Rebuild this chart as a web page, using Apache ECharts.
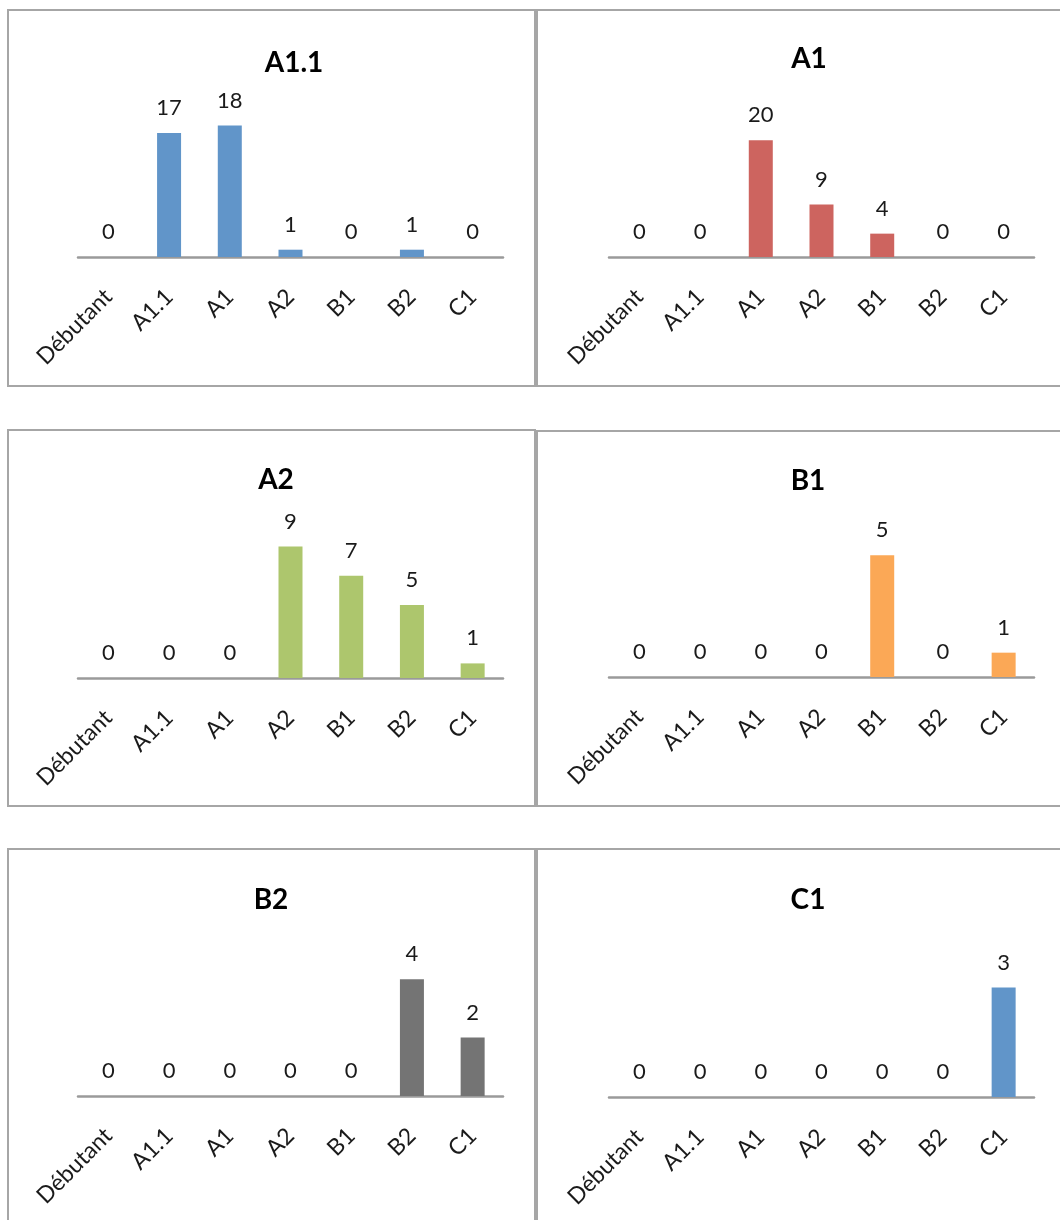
<!DOCTYPE html>
<html>
<head>
<meta charset="utf-8">
<script src="https://cdn.jsdelivr.net/npm/echarts@6/dist/echarts.min.js"></script>
<style>
  html, body { margin: 0; padding: 0; background: #ffffff; }
  body { width: 1060px; height: 1220px; position: relative; overflow: hidden; }
  .panel { position: absolute; box-sizing: border-box; border: 2px solid #a6a6a6; background: #fff; }
</style>
</head>
<body>
<div id="p0" class="panel" style="left:7px;top:9px;width:529px;height:378px;"></div>
<div id="p1" class="panel" style="left:536px;top:9px;width:530px;height:378px;"></div>
<div id="p2" class="panel" style="left:7px;top:429px;width:529px;height:378px;"></div>
<div id="p3" class="panel" style="left:536px;top:430px;width:530px;height:377px;"></div>
<div id="p4" class="panel" style="left:7px;top:848px;width:529px;height:390px;"></div>
<div id="p5" class="panel" style="left:536px;top:848px;width:530px;height:390px;"></div>
<script>
// ---- data ----
const categories = ['Débutant', 'A1.1', 'A1', 'A2', 'B1', 'B2', 'C1'];
const panelTitles = ['A1.1', 'A1', 'A2', 'B1', 'B2', 'C1'];
const valuesA11 = [0, 17, 18, 1, 0, 1, 0];
const valuesA1  = [0, 0, 20, 9, 4, 0, 0];
const valuesA2  = [0, 0, 0, 9, 7, 5, 1];
const valuesB1  = [0, 0, 0, 0, 5, 0, 1];
const valuesB2  = [0, 0, 0, 0, 0, 4, 2];
const valuesC1  = [0, 0, 0, 0, 0, 0, 3];
const yAxisMax  = [20, 25, 10, 6, 5, 4];

// ---- styling / layout ----
const seriesValues = [valuesA11, valuesA1, valuesA2, valuesB1, valuesB2, valuesC1];
const barColors = ['#6195c9', '#cd645f', '#adc66d', '#fba856', '#747474', '#6195c9'];
// per-panel layout (relative to panel div, inside its 2px border)
const layouts = [
  { gridLeft: 69, gridTop: 100, titleX: 280, titleY: 33 },
  { gridLeft: 71, gridTop: 100, titleX: 266, titleY: 29 },
  { gridLeft: 69, gridTop: 101, titleX: 262, titleY: 30 },
  { gridLeft: 71, gridTop: 99,  titleX: 265, titleY: 30 },
  { gridLeft: 69, gridTop: 100, titleX: 257, titleY: 31 },
  { gridLeft: 71, gridTop: 101, titleX: 265, titleY: 31 }
];
const FONT = 'Lato, "Open Sans", sans-serif';

seriesValues.forEach(function (vals, i) {
  const chart = echarts.init(document.getElementById('p' + i), null, { renderer: 'canvas' });
  const L = layouts[i];
  chart.setOption({
    animation: false,
    backgroundColor: '#ffffff',
    title: {
      text: panelTitles[i],
      left: L.titleX,
      top: L.titleY,
      textAlign: 'center',
      textStyle: { fontFamily: FONT, fontWeight: 'bold', fontSize: 28, color: '#000' }
    },
    grid: { left: L.gridLeft, top: L.gridTop, width: 425, height: 146, containLabel: false },
    xAxis: {
      type: 'category',
      data: categories,
      axisLine: { show: true, lineStyle: { color: '#9a9a9a', width: 2.5 } },
      axisTick: { show: false },
      axisLabel: {
        rotate: 45,
        interval: 0,
        margin: 36,
        fontFamily: FONT,
        fontSize: 23,
        color: '#1a1a1a'
      },
      splitLine: { show: false }
    },
    yAxis: {
      type: 'value',
      min: 0,
      max: yAxisMax[i],
      show: false,
      splitLine: { show: false }
    },
    series: [{
      type: 'bar',
      data: vals,
      barWidth: 24,
      itemStyle: { color: barColors[i] },
      label: {
        show: true,
        position: 'top',
        distance: 14,
        fontFamily: FONT,
        fontSize: 22,
        color: '#1a1a1a'
      }
    }]
  });
});
</script>
</body>
</html>
